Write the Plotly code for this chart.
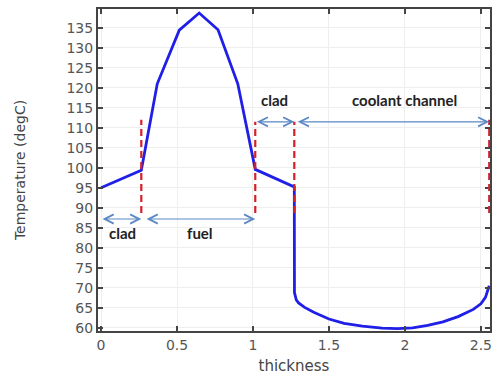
import plotly.graph_objects as go

# ---- data ----
thickness = [0.0, 0.265, 0.37, 0.515, 0.646, 0.77, 0.9, 1.015, 1.272, 1.273, 1.285,
             1.30, 1.34, 1.40, 1.50, 1.60, 1.72, 1.85, 1.95, 2.05, 2.15, 2.25,
             2.35, 2.45, 2.50, 2.53, 2.555]
temperature = [95.0, 99.4, 121.0, 134.4, 138.7, 134.5, 121.0, 99.6, 95.2, 68.8, 67.0,
               66.2, 65.1, 63.9, 62.2, 61.1, 60.4, 59.9, 59.8, 60.0, 60.6, 61.5,
               62.8, 64.6, 66.0, 67.6, 70.5]

boundaries = [0.265, 1.015, 1.272, 2.555]
boundary_ymin = [88.7, 88.7, 88.7, 88.7]
boundary_ymax = [112.0, 111.5, 111.5, 112.0]

region_labels = ["clad", "fuel", "clad", "coolant channel"]
region_start = [0.0, 0.29, 1.015, 1.285]
region_end = [0.265, 1.015, 1.272, 2.555]
region_arrow_y = [87.2, 87.2, 111.5, 111.5]
region_label_x = [0.14, 0.65, 1.14, 2.0]
region_label_y = [83.6, 83.6, 117.0, 117.0]

x_ticks = [0, 0.5, 1, 1.5, 2, 2.5]
y_ticks = list(range(60, 140, 5))

fig = go.Figure()
fig.add_trace(go.Scatter(x=thickness, y=temperature, mode="lines",
                         line=dict(color="#1f1fe8", width=2.8), showlegend=False))

for bx, y0, y1 in zip(boundaries, boundary_ymin, boundary_ymax):
    fig.add_shape(type="line", xref="x", yref="y", x0=bx, x1=bx, y0=y0, y1=y1,
                  line=dict(color="#d4202a", width=2.2, dash="7px,4px"))

for x0, x1, ya in zip(region_start, region_end, region_arrow_y):
    fig.add_annotation(x=x1, y=ya, ax=x0, ay=ya, xref="x", yref="y", axref="x", ayref="y",
                       text="", showarrow=True, arrowhead=5, startarrowhead=5,
                       arrowside="end+start", arrowsize=1.5, arrowwidth=1.2,
                       arrowcolor="#5b88c4", standoff=0, startstandoff=0)

for lbl, lx, ly in zip(region_labels, region_label_x, region_label_y):
    fig.add_annotation(x=lx, y=ly, xref="x", yref="y", text="<b>%s</b>" % lbl,
                       showarrow=False, font=dict(family="Lato", size=15, color="#222222"))

axis_common = dict(showline=True, linecolor="#444444", linewidth=2, mirror="ticks",
                   ticks="inside", ticklen=5, tickcolor="#444444", tickwidth=1.5,
                   showgrid=True, gridcolor="#eeeeee", gridwidth=1, zeroline=False,
                   tickfont=dict(family="DejaVu Sans", size=14, color="#555555"))

fig.update_xaxes(range=[-0.02, 2.56], tickvals=x_ticks,
                 ticktext=[str(v) for v in x_ticks],
                 title=dict(text="thickness", font=dict(family="DejaVu Sans", size=15, color="#444444"), standoff=9),
                 **axis_common)
fig.update_yaxes(range=[59.2, 139.7], tickvals=y_ticks,
                 title=dict(text="Temperature (degC)", font=dict(family="DejaVu Sans", size=14, color="#444444"), standoff=38),
                 **axis_common)

fig.update_layout(width=493, height=377, margin=dict(l=98, r=1, t=9, b=46),
                  plot_bgcolor="white", paper_bgcolor="white")

fig.write_html("out.html")
